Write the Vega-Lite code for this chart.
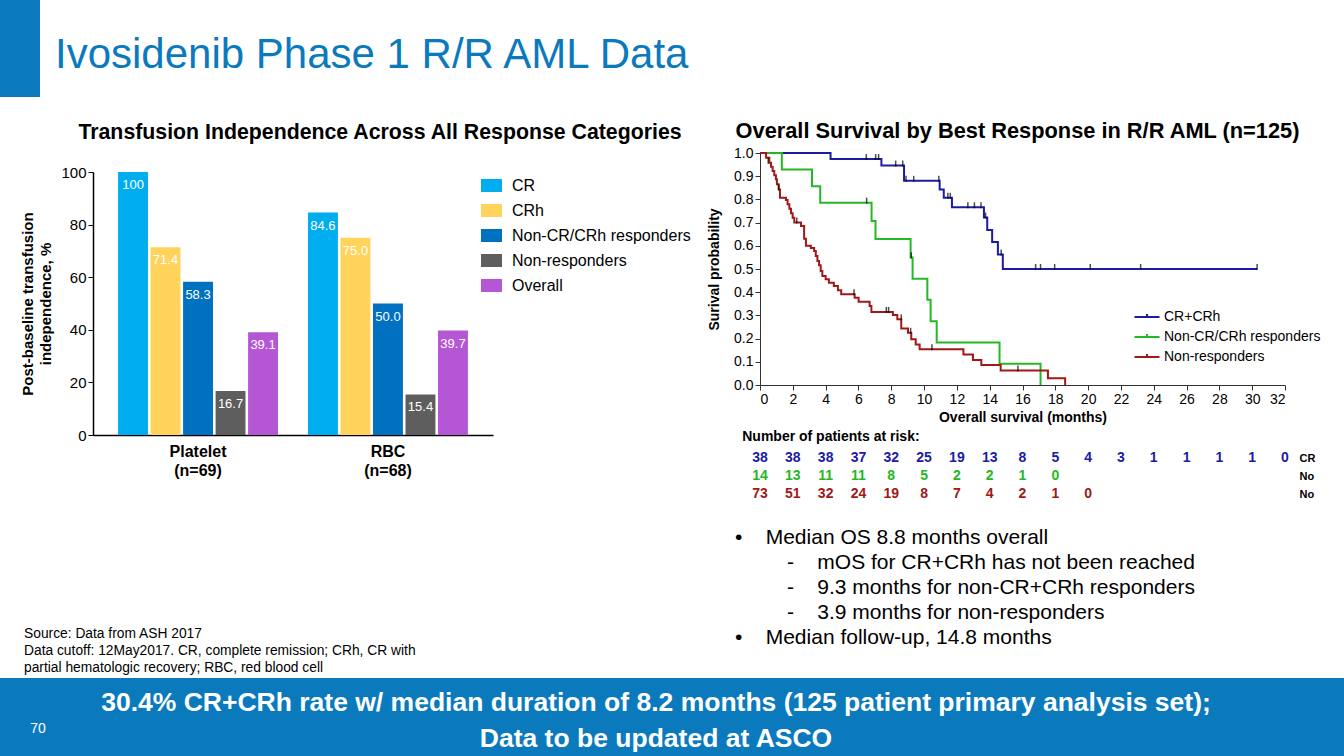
{
  "$schema": "https://vega.github.io/schema/vega-lite/v6.json",
  "background": "white",
  "padding": 0,
  "spacing": 0,
  "config": {
    "font": "Liberation Sans",
    "view": {"stroke": null},
    "axis": {"grid": false, "domainColor": "black", "tickColor": "black", "labelColor": "black", "titleColor": "black"},
    "title": {"color": "black"}
  },
  "datasets": {
    "ti": [
      {"type": "Platelet", "cat": "CR", "pct": 100, "label": "100"},
      {"type": "Platelet", "cat": "CRh", "pct": 71.4, "label": "71.4"},
      {"type": "Platelet", "cat": "Non-CR/CRh responders", "pct": 58.3, "label": "58.3"},
      {"type": "Platelet", "cat": "Non-responders", "pct": 16.7, "label": "16.7"},
      {"type": "Platelet", "cat": "Overall", "pct": 39.1, "label": "39.1"},
      {"type": "RBC", "cat": "CR", "pct": 84.6, "label": "84.6"},
      {"type": "RBC", "cat": "CRh", "pct": 75.0, "label": "75.0"},
      {"type": "RBC", "cat": "Non-CR/CRh responders", "pct": 50.0, "label": "50.0"},
      {"type": "RBC", "cat": "Non-responders", "pct": 15.4, "label": "15.4"},
      {"type": "RBC", "cat": "Overall", "pct": 39.7, "label": "39.7"}
    ],
    "km": [
      {"grp": "CR+CRh", "t": 0, "s": 1},
      {"grp": "CR+CRh", "t": 4.3, "s": 0.974},
      {"grp": "CR+CRh", "t": 7.4, "s": 0.946},
      {"grp": "CR+CRh", "t": 8.78, "s": 0.88},
      {"grp": "CR+CRh", "t": 10.95, "s": 0.843},
      {"grp": "CR+CRh", "t": 11.2, "s": 0.807},
      {"grp": "CR+CRh", "t": 11.7, "s": 0.766},
      {"grp": "CR+CRh", "t": 13.65, "s": 0.722},
      {"grp": "CR+CRh", "t": 13.85, "s": 0.668},
      {"grp": "CR+CRh", "t": 14.15, "s": 0.616},
      {"grp": "CR+CRh", "t": 14.5, "s": 0.562},
      {"grp": "CR+CRh", "t": 14.8, "s": 0.5},
      {"grp": "CR+CRh", "t": 30.3, "s": 0.5},
      {"grp": "Non-CR/CRh responders", "t": 0, "s": 1},
      {"grp": "Non-CR/CRh responders", "t": 1.33, "s": 0.929},
      {"grp": "Non-CR/CRh responders", "t": 3.17, "s": 0.857},
      {"grp": "Non-CR/CRh responders", "t": 3.67, "s": 0.786},
      {"grp": "Non-CR/CRh responders", "t": 6.8, "s": 0.707},
      {"grp": "Non-CR/CRh responders", "t": 7.04, "s": 0.629},
      {"grp": "Non-CR/CRh responders", "t": 9.18, "s": 0.55},
      {"grp": "Non-CR/CRh responders", "t": 9.3, "s": 0.458},
      {"grp": "Non-CR/CRh responders", "t": 10.2, "s": 0.367},
      {"grp": "Non-CR/CRh responders", "t": 10.4, "s": 0.275},
      {"grp": "Non-CR/CRh responders", "t": 10.77, "s": 0.183},
      {"grp": "Non-CR/CRh responders", "t": 14.6, "s": 0.092},
      {"grp": "Non-CR/CRh responders", "t": 17.1, "s": 0},
      {"grp": "Non-responders", "t": 0, "s": 1},
      {"grp": "Non-responders", "t": 0.37, "s": 0.98},
      {"grp": "Non-responders", "t": 0.57, "s": 0.958},
      {"grp": "Non-responders", "t": 0.67, "s": 0.941},
      {"grp": "Non-responders", "t": 0.77, "s": 0.922},
      {"grp": "Non-responders", "t": 0.87, "s": 0.904},
      {"grp": "Non-responders", "t": 0.97, "s": 0.887},
      {"grp": "Non-responders", "t": 1.03, "s": 0.865},
      {"grp": "Non-responders", "t": 1.14, "s": 0.843},
      {"grp": "Non-responders", "t": 1.22, "s": 0.807},
      {"grp": "Non-responders", "t": 1.58, "s": 0.797},
      {"grp": "Non-responders", "t": 1.68, "s": 0.779},
      {"grp": "Non-responders", "t": 1.79, "s": 0.76},
      {"grp": "Non-responders", "t": 1.89, "s": 0.74},
      {"grp": "Non-responders", "t": 1.99, "s": 0.721},
      {"grp": "Non-responders", "t": 2.09, "s": 0.7},
      {"grp": "Non-responders", "t": 2.5, "s": 0.685},
      {"grp": "Non-responders", "t": 2.69, "s": 0.63},
      {"grp": "Non-responders", "t": 2.8, "s": 0.6},
      {"grp": "Non-responders", "t": 3.1, "s": 0.59},
      {"grp": "Non-responders", "t": 3.3, "s": 0.578},
      {"grp": "Non-responders", "t": 3.4, "s": 0.556},
      {"grp": "Non-responders", "t": 3.5, "s": 0.534},
      {"grp": "Non-responders", "t": 3.6, "s": 0.516},
      {"grp": "Non-responders", "t": 3.7, "s": 0.491},
      {"grp": "Non-responders", "t": 3.8, "s": 0.47},
      {"grp": "Non-responders", "t": 4.0, "s": 0.456},
      {"grp": "Non-responders", "t": 4.2, "s": 0.441},
      {"grp": "Non-responders", "t": 4.5, "s": 0.427},
      {"grp": "Non-responders", "t": 4.75, "s": 0.408},
      {"grp": "Non-responders", "t": 4.95, "s": 0.391},
      {"grp": "Non-responders", "t": 5.77, "s": 0.376},
      {"grp": "Non-responders", "t": 6.01, "s": 0.359},
      {"grp": "Non-responders", "t": 6.68, "s": 0.34},
      {"grp": "Non-responders", "t": 6.79, "s": 0.315},
      {"grp": "Non-responders", "t": 8.1, "s": 0.302},
      {"grp": "Non-responders", "t": 8.37, "s": 0.283},
      {"grp": "Non-responders", "t": 8.61, "s": 0.244},
      {"grp": "Non-responders", "t": 9.02, "s": 0.225},
      {"grp": "Non-responders", "t": 9.22, "s": 0.197},
      {"grp": "Non-responders", "t": 9.49, "s": 0.175},
      {"grp": "Non-responders", "t": 9.73, "s": 0.154},
      {"grp": "Non-responders", "t": 12.4, "s": 0.132},
      {"grp": "Non-responders", "t": 12.98, "s": 0.108},
      {"grp": "Non-responders", "t": 13.49, "s": 0.086},
      {"grp": "Non-responders", "t": 14.67, "s": 0.063},
      {"grp": "Non-responders", "t": 17.55, "s": 0.029},
      {"grp": "Non-responders", "t": 18.6, "s": 0}
    ],
    "cens": [
      {"grp": "CR+CRh", "t": 6.48, "s": 0.974},
      {"grp": "CR+CRh", "t": 7.05, "s": 0.974},
      {"grp": "CR+CRh", "t": 7.23, "s": 0.974},
      {"grp": "CR+CRh", "t": 8.27, "s": 0.946},
      {"grp": "CR+CRh", "t": 8.7, "s": 0.946},
      {"grp": "CR+CRh", "t": 8.9, "s": 0.88},
      {"grp": "CR+CRh", "t": 9.37, "s": 0.88},
      {"grp": "CR+CRh", "t": 10.9, "s": 0.88},
      {"grp": "CR+CRh", "t": 11.45, "s": 0.807},
      {"grp": "CR+CRh", "t": 11.6, "s": 0.807},
      {"grp": "CR+CRh", "t": 12.67, "s": 0.766},
      {"grp": "CR+CRh", "t": 13.07, "s": 0.766},
      {"grp": "CR+CRh", "t": 13.47, "s": 0.766},
      {"grp": "CR+CRh", "t": 13.75, "s": 0.722},
      {"grp": "CR+CRh", "t": 14.7, "s": 0.562},
      {"grp": "CR+CRh", "t": 16.8, "s": 0.5},
      {"grp": "CR+CRh", "t": 17.1, "s": 0.5},
      {"grp": "CR+CRh", "t": 17.96, "s": 0.5},
      {"grp": "CR+CRh", "t": 20.13, "s": 0.5},
      {"grp": "CR+CRh", "t": 23.2, "s": 0.5},
      {"grp": "CR+CRh", "t": 30.3, "s": 0.5},
      {"grp": "Non-CR/CRh responders", "t": 6.5, "s": 0.786},
      {"grp": "Non-CR/CRh responders", "t": 9.22, "s": 0.55},
      {"grp": "Non-responders", "t": 0.5, "s": 0.958},
      {"grp": "Non-responders", "t": 1.14, "s": 0.843},
      {"grp": "Non-responders", "t": 2.24, "s": 0.7},
      {"grp": "Non-responders", "t": 5.73, "s": 0.391},
      {"grp": "Non-responders", "t": 7.7, "s": 0.315},
      {"grp": "Non-responders", "t": 7.84, "s": 0.315},
      {"grp": "Non-responders", "t": 8.61, "s": 0.283},
      {"grp": "Non-responders", "t": 9.18, "s": 0.225},
      {"grp": "Non-responders", "t": 10.48, "s": 0.154},
      {"grp": "Non-responders", "t": 15.72, "s": 0.063}
    ],
    "risk": [
      {"grp": "CR+CRh", "t": 0, "n": 38}, {"grp": "CR+CRh", "t": 2, "n": 38}, {"grp": "CR+CRh", "t": 4, "n": 38},
      {"grp": "CR+CRh", "t": 6, "n": 37}, {"grp": "CR+CRh", "t": 8, "n": 32}, {"grp": "CR+CRh", "t": 10, "n": 25},
      {"grp": "CR+CRh", "t": 12, "n": 19}, {"grp": "CR+CRh", "t": 14, "n": 13}, {"grp": "CR+CRh", "t": 16, "n": 8},
      {"grp": "CR+CRh", "t": 18, "n": 5}, {"grp": "CR+CRh", "t": 20, "n": 4}, {"grp": "CR+CRh", "t": 22, "n": 3},
      {"grp": "CR+CRh", "t": 24, "n": 1}, {"grp": "CR+CRh", "t": 26, "n": 1}, {"grp": "CR+CRh", "t": 28, "n": 1},
      {"grp": "CR+CRh", "t": 30, "n": 1}, {"grp": "CR+CRh", "t": 32, "n": 0},
      {"grp": "Non-CR/CRh responders", "t": 0, "n": 14}, {"grp": "Non-CR/CRh responders", "t": 2, "n": 13},
      {"grp": "Non-CR/CRh responders", "t": 4, "n": 11}, {"grp": "Non-CR/CRh responders", "t": 6, "n": 11},
      {"grp": "Non-CR/CRh responders", "t": 8, "n": 8}, {"grp": "Non-CR/CRh responders", "t": 10, "n": 5},
      {"grp": "Non-CR/CRh responders", "t": 12, "n": 2}, {"grp": "Non-CR/CRh responders", "t": 14, "n": 2},
      {"grp": "Non-CR/CRh responders", "t": 16, "n": 1}, {"grp": "Non-CR/CRh responders", "t": 18, "n": 0},
      {"grp": "Non-responders", "t": 0, "n": 73}, {"grp": "Non-responders", "t": 2, "n": 51},
      {"grp": "Non-responders", "t": 4, "n": 32}, {"grp": "Non-responders", "t": 6, "n": 24},
      {"grp": "Non-responders", "t": 8, "n": 19}, {"grp": "Non-responders", "t": 10, "n": 8},
      {"grp": "Non-responders", "t": 12, "n": 7}, {"grp": "Non-responders", "t": 14, "n": 4},
      {"grp": "Non-responders", "t": 16, "n": 2}, {"grp": "Non-responders", "t": 18, "n": 1},
      {"grp": "Non-responders", "t": 20, "n": 0}
    ]
  },
  "vconcat": [
    {
      "spacing": 0,
      "hconcat": [
        {
          "width": 40, "height": 97,
          "view": {"fill": "#0B7ABD", "stroke": null},
          "data": {"values": [{}]},
          "mark": {"type": "text"},
          "encoding": {"text": {"value": ""}}
        },
        {
          "width": 1304, "height": 121,
          "data": {"values": [{"t": "Ivosidenib Phase 1 R/R AML Data"}]},
          "mark": {"type": "text", "align": "left", "baseline": "alphabetic", "fontSize": 42, "color": "#0B7ABD", "dx": 15, "dy": 7.5},
          "encoding": {"text": {"field": "t"}, "x": {"value": 0}}
        }
      ]
    },
    {
      "spacing": 16,
      "resolve": {"scale": {"color": "independent"}, "legend": {"color": "independent"}},
      "hconcat": [
        {
          "width": 4, "height": 10,
          "data": {"values": [{}]},
          "mark": {"type": "text"},
          "encoding": {"text": {"value": ""}}
        },
        {
          "width": 400, "height": 282,
          "title": {"text": "Transfusion Independence Across All Response Categories", "fontSize": 21.3, "fontWeight": "bold", "offset": 10, "dx": 87},
          "data": {"name": "ti"},
          "encoding": {
            "x": {
              "field": "type", "type": "nominal", "sort": ["Platelet", "RBC"],
              "scale": {"paddingInner": 0.158, "paddingOuter": 0.132},
              "axis": {"title": null, "labelAngle": 0, "ticks": false, "tickSize": 0, "labelPadding": 8, "labelFontSize": 16, "labelFontWeight": "bold", "labelLineHeight": 19, "domainWidth": 1.5,
                "labelExpr": "datum.value == 'Platelet' ? ['Platelet', '(n=69)'] : ['RBC', '(n=68)']"}
            },
            "xOffset": {
              "field": "cat", "type": "nominal",
              "sort": ["CR", "CRh", "Non-CR/CRh responders", "Non-responders", "Overall"],
              "scale": {"paddingInner": 0.08, "paddingOuter": 0}
            },
            "y": {
              "field": "pct", "type": "quantitative",
              "scale": {"domain": [0, 100], "range": [282, 19], "nice": false},
              "axis": {"values": [0, 20, 40, 60, 80, 100], "labelFontSize": 15, "tickSize": 5, "labelPadding": 2, "domainWidth": 1.5,
                "title": ["Post-baseline transfusion", "independence, %"], "titleFontSize": 15, "titleFontWeight": "bold", "titleLineHeight": 18, "titlePadding": 7}
            }
          },
          "layer": [
            {
              "mark": {"type": "bar"},
              "encoding": {
                "color": {
                  "field": "cat", "type": "nominal",
                  "scale": {"domain": ["CR", "CRh", "Non-CR/CRh responders", "Non-responders", "Overall"], "range": ["#00AEEF", "#FFD35C", "#0070C0", "#5E5E5E", "#B556D5"]},
                  "legend": {"orient": "none", "legendX": 388, "legendY": 22, "title": null, "labelFontSize": 16, "labelColor": "black", "labelLimit": 300,
                    "symbolType": "M-1,-0.62H1V0.62H-1Z", "symbolSize": 441, "symbolStrokeWidth": 0, "labelOffset": 10, "rowPadding": 6}
                }
              }
            },
            {
              "mark": {"type": "text", "baseline": "top", "dy": 7, "fontSize": 13, "color": "white"},
              "encoding": {"text": {"field": "label"}}
            }
          ]
        },
        {
          "spacing": 6,
          "resolve": {"scale": {"color": "independent"}, "legend": {"color": "independent"}},
          "vconcat": [
            {
              "width": 525, "height": 232,
              "title": {"text": "Overall Survival by Best Response in R/R AML (n=125)", "fontSize": 21.8, "fontWeight": "bold", "offset": 3, "dx": -5},
              "encoding": {
                "x": {
                  "field": "t", "type": "quantitative", "scale": {"domain": [0, 32], "nice": false},
                  "axis": {"values": [0, 2, 4, 6, 8, 10, 12, 14, 16, 18, 20, 22, 24, 26, 28, 30, 32], "labelFontSize": 14, "tickSize": 5, "labelPadding": 2,
                    "domainColor": "#333", "tickColor": "#333",
                    "title": "Overall survival (months)", "titleFontSize": 14, "titleFontWeight": "bold", "titlePadding": 4}
                },
                "y": {
                  "field": "s", "type": "quantitative", "scale": {"domain": [0, 1], "nice": false},
                  "axis": {"values": [0, 0.1, 0.2, 0.3, 0.4, 0.5, 0.6, 0.7, 0.8, 0.9, 1], "format": ".1f", "labelFontSize": 14, "tickSize": 5, "labelPadding": 2,
                    "domainColor": "#333", "tickColor": "#333",
                    "title": "Surival probability", "titleFontSize": 14, "titleFontWeight": "bold", "titlePadding": 12}
                }
              },
              "layer": [
                {
                  "data": {"name": "km"},
                  "mark": {"type": "line", "interpolate": "step-after", "strokeWidth": 2},
                  "encoding": {
                    "color": {
                      "field": "grp", "type": "nominal",
                      "scale": {"domain": ["CR+CRh", "Non-CR/CRh responders", "Non-responders"], "range": ["#1C1CA3", "#25B825", "#A11818"]},
                      "legend": {"orient": "none", "legendX": 376, "legendY": 153, "title": null, "labelFontSize": 14, "labelColor": "black", "labelLimit": 300,
                        "symbolType": "M-1.25,0H1.25M0,0V-0.3", "symbolSize": 400, "symbolStrokeWidth": 2, "labelOffset": 6, "rowPadding": 2}
                    }
                  }
                },
                {
                  "data": {"name": "cens"},
                  "mark": {"type": "tick", "orient": "vertical", "size": 6, "thickness": 1.5, "color": "black", "yOffset": -2}
                }
              ]
            },
            {
              "width": 525, "height": 54,
              "title": {"text": "Number of patients at risk:", "anchor": "start", "dx": -10, "fontSize": 14, "fontWeight": "bold", "offset": 5},
              "data": {"name": "risk"},
              "mark": {"type": "text", "fontSize": 14, "fontWeight": "bold"},
              "encoding": {
                "x": {"field": "t", "type": "quantitative", "scale": {"domain": [0, 32], "nice": false}, "axis": null},
                "y": {
                  "field": "grp", "type": "nominal", "sort": ["CR+CRh", "Non-CR/CRh responders", "Non-responders"],
                  "axis": {"orient": "right", "title": null, "domain": false, "ticks": false, "labelFontSize": 11, "labelFontWeight": "bold", "labelPadding": 14,
                    "labelExpr": "datum.value == 'CR+CRh' ? 'CR' : 'No'"}
                },
                "text": {"field": "n", "type": "quantitative"},
                "color": {
                  "field": "grp", "type": "nominal",
                  "scale": {"domain": ["CR+CRh", "Non-CR/CRh responders", "Non-responders"], "range": ["#1C1CA3", "#25B825", "#A11818"]},
                  "legend": null
                }
              }
            }
          ]
        }
      ]
    },
    {
      "spacing": 0,
      "hconcat": [
        {
          "width": 735, "height": 175,
          "data": {"values": [
            {"i": 1, "t": "Source: Data from ASH 2017"},
            {"i": 2, "t": "Data cutoff: 12May2017. CR, complete remission; CRh, CR with"},
            {"i": 3, "t": "partial hematologic recovery; RBC, red blood cell"}
          ]},
          "mark": {"type": "text", "align": "left", "fontSize": 13.8, "color": "black", "dx": 24},
          "encoding": {
            "x": {"value": 0},
            "y": {"field": "i", "type": "ordinal", "axis": null, "scale": {"type": "point", "padding": 0, "range": [131, 165]}},
            "text": {"field": "t"}
          }
        },
        {
          "width": 609, "height": 175,
          "data": {"values": [
            {"i": 1, "lvl": 0, "t": "•\u00a0\u00a0\u00a0\u00a0Median OS 8.8 months overall"},
            {"i": 2, "lvl": 1, "t": "-\u00a0\u00a0\u00a0\u00a0mOS for CR+CRh has not been reached"},
            {"i": 3, "lvl": 1, "t": "-\u00a0\u00a0\u00a0\u00a09.3 months for non-CR+CRh responders"},
            {"i": 4, "lvl": 1, "t": "-\u00a0\u00a0\u00a0\u00a03.9 months for non-responders"},
            {"i": 5, "lvl": 0, "t": "•\u00a0\u00a0\u00a0\u00a0Median follow-up, 14.8 months"}
          ]},
          "encoding": {
            "x": {"value": 0},
            "y": {"field": "i", "type": "ordinal", "axis": null, "scale": {"type": "point", "padding": 0, "range": [35, 135]}},
            "text": {"field": "t"}
          },
          "layer": [
            {
              "transform": [{"filter": "datum.lvl == 0"}],
              "mark": {"type": "text", "align": "left", "fontSize": 21, "color": "black"}
            },
            {
              "transform": [{"filter": "datum.lvl == 1"}],
              "mark": {"type": "text", "align": "left", "fontSize": 21, "color": "black", "dx": 52}
            }
          ]
        }
      ]
    },
    {
      "spacing": 0,
      "hconcat": [
        {
          "width": 60, "height": 79,
          "view": {"fill": "#0B7ABD", "stroke": null},
          "data": {"values": [{"t": "70"}]},
          "mark": {"type": "text", "fontSize": 14, "color": "white", "dx": 8, "dy": 11},
          "encoding": {"text": {"field": "t"}}
        },
        {
          "width": 1164, "height": 79,
          "view": {"fill": "#0B7ABD", "stroke": null},
          "data": {"values": [
            {"i": 1, "t": "30.4% CR+CRh rate w/ median duration of 8.2 months (125 patient primary analysis set);"},
            {"i": 2, "t": "Data to be updated at ASCO"}
          ]},
          "mark": {"type": "text", "fontSize": 26.5, "fontWeight": "bold", "color": "white", "dx": 14},
          "encoding": {
            "y": {"field": "i", "type": "ordinal", "axis": null, "scale": {"type": "point", "padding": 0, "range": [25, 61]}},
            "text": {"field": "t"}
          }
        },
        {
          "width": 120, "height": 79,
          "view": {"fill": "#0B7ABD", "stroke": null},
          "data": {"values": [{}]},
          "mark": {"type": "text"},
          "encoding": {"text": {"value": ""}}
        }
      ]
    }
  ]
}
